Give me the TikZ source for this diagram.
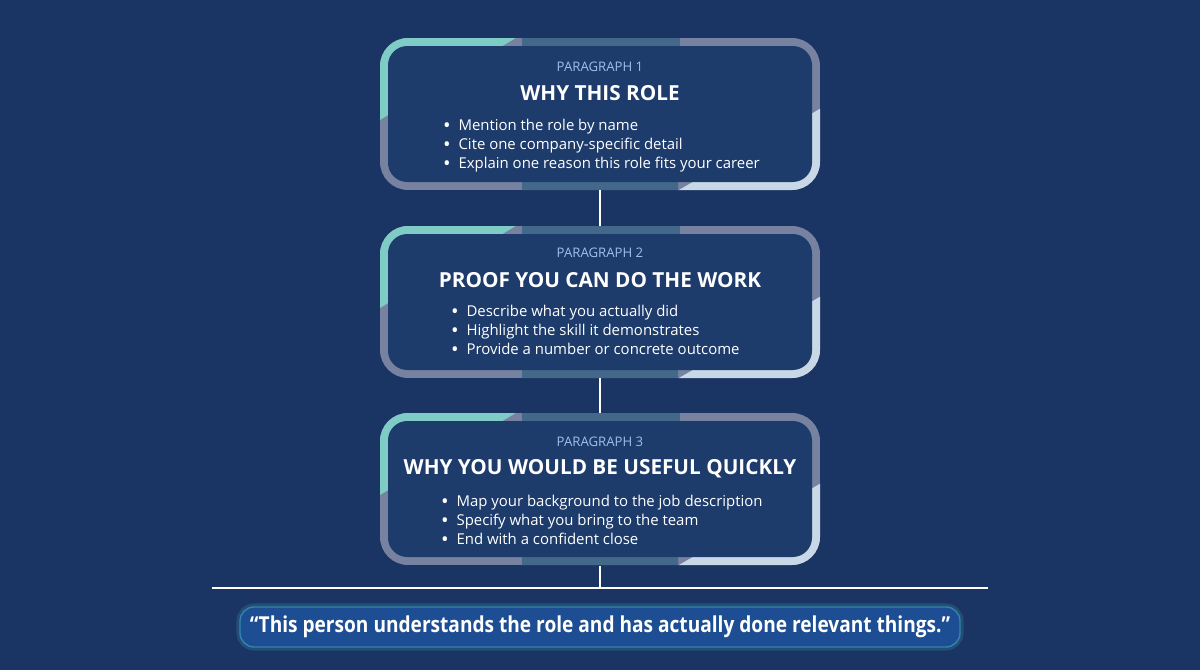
\documentclass[tikz,border=0pt]{standalone}
\usepackage{fontspec}
\setmainfont{Open Sans}
\usetikzlibrary{positioning}
\definecolor{bgblue}{HTML}{1A3563}
\definecolor{innerblue}{HTML}{1D3B6B}
\definecolor{rimgrey}{HTML}{76829F}
\definecolor{rimteal}{HTML}{7FCCC6}
\definecolor{rimdark}{HTML}{44688A}
\definecolor{rimlight}{HTML}{C9D8E6}
\definecolor{labelblue}{HTML}{9EC0E8}
\definecolor{quoteblue}{HTML}{1D4E93}
\definecolor{quoteglow}{HTML}{3C9AB4}
\newcommand{\paraframe}[1]{%
  \begin{scope}
    \clip[rounded corners=16] (380,#1) rectangle (820,#1+152);
    \fill[rimgrey] (380,#1) rectangle (820,#1+152);
    \fill[rimteal] (370,#1-5) -- (524,#1-5) -- (370,#1+88) -- cycle;
    \fill[rimdark] (522,#1-5) -- (680,#1-5) -- (678,#1+160) -- (522,#1+160) -- cycle;
    \fill[rimlight] (665,#1+160) -- (830,#1+160) -- (830,#1+65) -- cycle;
  \end{scope}
  \fill[innerblue, rounded corners=11] (388,#1+8) rectangle (812,#1+144);
}
\newcommand{\blt}{\raisebox{-0.13em}{\scalebox{1.35}{\textbullet}}\ \ }
\tikzset{
  para label/.style={text=labelblue, font=\fontsize{7.5}{9}\selectfont},
  para title/.style={text=white, font=\fontsize{11.8}{15}\selectfont\bfseries},
  para list/.style={text=white, align=left, font=\fontsize{8.5}{10.8}\selectfont},
  link/.style={draw=white, line width=1.6pt},
}
\begin{document}
\begin{tikzpicture}[x=0.02cm, y=-0.02cm]
  \fill[bgblue] (0,0) rectangle (1200,670);
  \useasboundingbox (0,0) rectangle (1200,670);

  \paraframe{38}
  \paraframe{226}
  \paraframe{413}

  \node[para label] (lab1) at (600,67) {PARAGRAPH 1};
  \node[para title] (tit1) at (600,93) {WHY THIS ROLE};
  \node[para list, anchor=north west] (list1) at (437,113)
    {\blt Mention the role by name\\
     \blt Cite one company-specific detail\\
     \blt Explain one reason this role fits your career};

  \node[para label] (lab2) at (600,253) {PARAGRAPH 2};
  \node[para title] (tit2) at (600,280) {PROOF YOU CAN DO THE WORK};
  \node[para list, anchor=north west] (list2) at (445,299)
    {\blt Describe what you actually did\\
     \blt Highlight the skill it demonstrates\\
     \blt Provide a number or concrete outcome};

  \node[para label] (lab3) at (600,442) {PARAGRAPH 3};
  \node[para title] (tit3) at (600,469) {WHY YOU WOULD BE USEFUL QUICKLY};
  \node[para list, anchor=north west] (list3) at (435,489)
    {\blt Map your background to the job description\\
     \blt Specify what you bring to the team\\
     \blt End with a confident close};

  \coordinate (b1) at (600,190);
  \coordinate (t2) at (600,226);
  \coordinate (b2) at (600,378);
  \coordinate (t3) at (600,413);
  \coordinate (b3) at (600,566);
  \coordinate (base) at (600,588);
  \coordinate (baseL) at (212,588);
  \coordinate (baseR) at (988,588);

  \path[link] (b1) edge (t2)
              (b2) edge (t3)
              (b3) edge (base);
  \draw[white, line width=0.8pt] (baseL) -- (baseR);

  \draw[quoteglow, line width=4pt, rounded corners=8, opacity=0.25] (240,607) rectangle (960,647);
  \draw[fill=quoteblue, draw=quoteglow!70!quoteblue, line width=0.8pt, rounded corners=8] (240,607) rectangle (960,647);
  \node[text=white, font=\fontsize{12.5}{14}\selectfont\bfseries] (quote) at (600,627)
    {\scalebox{0.87}[1]{“This person understands the role and has actually done relevant things.”}};
\end{tikzpicture}
\end{document}
